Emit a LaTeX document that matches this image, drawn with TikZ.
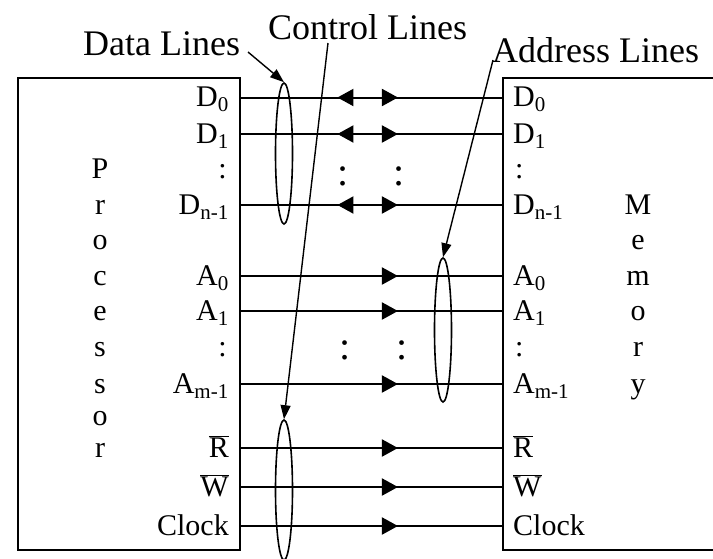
\documentclass[tikz,border=0pt]{standalone}
\usepackage{fontspec}
\setmainfont{Liberation Serif}
\usetikzlibrary{arrows.meta,shapes.geometric,decorations.markings}
\begin{document}
\begin{tikzpicture}[x=1pt,y=-1pt,
  lbl/.style={font=\fontsize{30}{36}\selectfont, inner sep=0pt},
  ttl/.style={font=\fontsize{36}{42}\selectfont, inner sep=0pt},
  bigcolon/.style={font=\fontsize{40}{40}\selectfont, inner sep=0pt, anchor=base},
  box/.style={draw, line width=2.2pt, inner sep=0pt},
  bus/.style={line width=2pt},
  ring/.style={draw, ellipse, line width=1.6pt, minimum width=17pt, inner sep=0pt},
  pointer/.style={line width=1.4pt, -{Triangle[length=14pt,width=10pt]}},
  fwd/.style={postaction={decorate}, decoration={markings,
     mark=at position 0.601 with {\arrow{Triangle[length=16pt,width=17pt]}}}},
  bidir/.style={postaction={decorate}, decoration={markings,
     mark=at position 0.601 with {\arrow{Triangle[length=16pt,width=17pt]}},
     mark=at position 0.369 with {\arrowreversed{Triangle[length=16pt,width=17pt]}}}}
]
\useasboundingbox (0,0) rectangle (713,558);
\fill[white] (0,0) rectangle (713,558);

% boxes
\node[box, minimum width=222pt, minimum height=472pt, anchor=north west] (P) at (17,77) {};
\node[box, minimum width=260pt, minimum height=472pt, anchor=north west] (M) at (502,77) {};

% row coordinates
\coordinate (rD0) at (0,97.5);
\coordinate (rD1) at (0,134);
\coordinate (rDc) at (0,169.5);
\coordinate (rDn) at (0,205);
\coordinate (rO1) at (0,240.5);
\coordinate (rA0) at (0,276);
\coordinate (rA1) at (0,311);
\coordinate (rAc) at (0,347.5);
\coordinate (rAm) at (0,384);
\coordinate (rO2) at (0,416);
\coordinate (rR) at (0,448);
\coordinate (rW) at (0,487);
\coordinate (rC) at (0,526);

% processor side labels
\node[lbl, anchor=base east] (pD0) at (229,106.5) {D\textsubscript{0}};
\node[lbl, anchor=base east] (pD1) at (229,143) {D\textsubscript{1}};
\node[lbl, anchor=base east] (pDc) at (227,178.5) {:};
\node[lbl, anchor=base east] (pDn) at (229,214) {D\textsubscript{n-1}};
\node[lbl, anchor=base east] (pA0) at (229,285) {A\textsubscript{0}};
\node[lbl, anchor=base east] (pA1) at (229,320) {A\textsubscript{1}};
\node[lbl, anchor=base east] (pAc) at (227,356.5) {:};
\node[lbl, anchor=base east] (pAm) at (229,393) {A\textsubscript{m-1}};
\node[lbl, anchor=base east] (pR) at (229,457) {$\overline{\mbox{R}}$};
\node[lbl, anchor=base east] (pW) at (229,496) {$\overline{\mbox{W}}$};
\node[lbl, anchor=base east] (pC) at (229,535) {Clock};

% memory side labels
\node[lbl, anchor=base west] (mD0) at (513,106.5) {D\textsubscript{0}};
\node[lbl, anchor=base west] (mD1) at (513,143) {D\textsubscript{1}};
\node[lbl, anchor=base west] (mDc) at (515,178.5) {:};
\node[lbl, anchor=base west] (mDn) at (513,214) {D\textsubscript{n-1}};
\node[lbl, anchor=base west] (mA0) at (513,285) {A\textsubscript{0}};
\node[lbl, anchor=base west] (mA1) at (513,320) {A\textsubscript{1}};
\node[lbl, anchor=base west] (mAc) at (515,356.5) {:};
\node[lbl, anchor=base west] (mAm) at (513,393) {A\textsubscript{m-1}};
\node[lbl, anchor=base west] (mR) at (513,457) {$\overline{\mbox{R}}$};
\node[lbl, anchor=base west] (mW) at (513,496) {$\overline{\mbox{W}}$};
\node[lbl, anchor=base west] (mC) at (513,535) {Clock};

% Processor letters
\node[lbl, anchor=base] (l1) at (100,178.5) {P};
\node[lbl, anchor=base] (l2) at (100,214) {r};
\node[lbl, anchor=base] (l3) at (100,249.5) {o};
\node[lbl, anchor=base] (l4) at (100,285) {c};
\node[lbl, anchor=base] (l5) at (100,320) {e};
\node[lbl, anchor=base] (l6) at (100,356.5) {s};
\node[lbl, anchor=base] (l7) at (100,393) {s};
\node[lbl, anchor=base] (l8) at (100,425) {o};
\node[lbl, anchor=base] (l9) at (100,457) {r};

% Memory letters
\node[lbl, anchor=base] (k1) at (638,214) {M};
\node[lbl, anchor=base] (k2) at (638,249.5) {e};
\node[lbl, anchor=base] (k3) at (638,285) {m};
\node[lbl, anchor=base] (k4) at (638,320) {o};
\node[lbl, anchor=base] (k5) at (638,356.5) {r};
\node[lbl, anchor=base] (k6) at (638,393) {y};

% bus lines
\draw[bus, bidir] (P.east |- rD0) -- (M.west |- rD0);
\draw[bus, bidir] (P.east |- rD1) -- (M.west |- rD1);
\draw[bus, bidir] (P.east |- rDn) -- (M.west |- rDn);
\draw[bus, fwd] (P.east |- rA0) -- (M.west |- rA0);
\draw[bus, fwd] (P.east |- rA1) -- (M.west |- rA1);
\draw[bus, fwd] (P.east |- rAm) -- (M.west |- rAm);
\draw[bus, fwd] (P.east |- rR) -- (M.west |- rR);
\draw[bus, fwd] (P.east |- rW) -- (M.west |- rW);
\draw[bus, fwd] (P.east |- rC) -- (M.west |- rC);

% middle colons
\node[bigcolon] (dc1) at (343,185) {:};
\node[bigcolon] (dc2) at (399,185) {:};
\node[bigcolon] (ac1) at (345,359) {:};
\node[bigcolon] (ac2) at (402,359) {:};

% ellipses
\node[ring, minimum height=141pt] (dE) at (284,153.5) {};
\node[ring, minimum height=144pt] (aE) at (443,330) {};
\node[ring, minimum height=140pt] (cE) at (284,490) {};

% titles
\node[ttl, anchor=base west] (tD) at (83,55) {Data Lines};
\node[ttl, anchor=base west] (tC) at (268,39) {Control Lines};
\node[ttl, anchor=base west] (tA) at (492,62) {Address Lines};

% pointers
\coordinate (sD) at (248,52);
\coordinate (sC) at (328,43);
\coordinate (sA) at (493,60);
\draw[pointer] (sD) -- (dE.north);
\draw[pointer] (sC) -- (cE.north);
\draw[pointer] (sA) -- (aE.north);
\end{tikzpicture}
\end{document}
